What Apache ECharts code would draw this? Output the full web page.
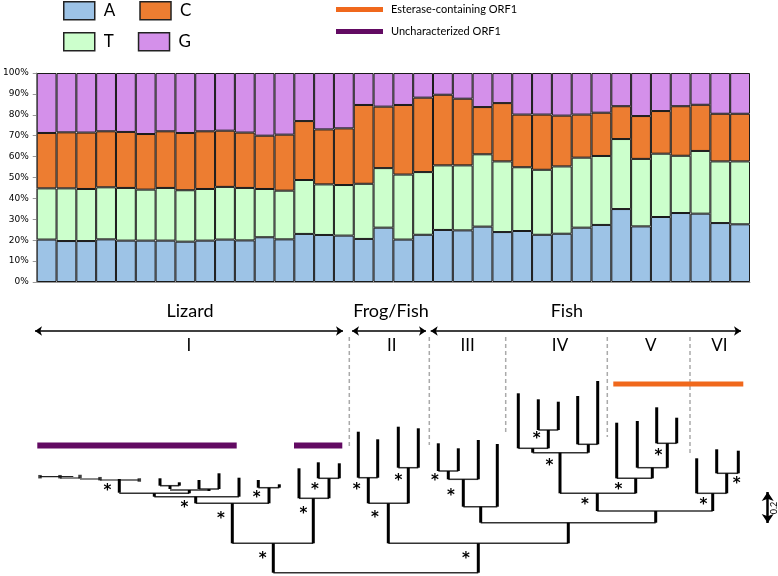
<!DOCTYPE html>
<html>
<head>
<meta charset="utf-8">
<title>Nucleotide composition and ORF1 phylogeny</title>
<script src="https://cdn.jsdelivr.net/npm/echarts@6/dist/echarts.min.js"></script>
<style>
  html, body { margin: 0; padding: 0; background: #fff; }
  #main { width: 778px; height: 576px; }
</style>
</head>
<body>
<div id="main"></div>
<script>
// ---- nucleotide composition (%), one bar per sequence, stacked A, T, C, G
var seqIds = ['1','2','3','4','5','6','7','8','9','10','11','12','13','14','15','16','17','18',
              '19','20','21','22','23','24','25','26','27','28','29','30','31','32','33','34','35','36'];
var pctA = [20.3,19.6,19.6,20.4,19.8,19.8,19.8,19.3,19.8,20.3,19.9,21.4,20.4,23.0,22.5,22.2,20.6,26.0,
            20.3,22.6,24.9,24.7,26.5,23.9,24.4,22.6,23.1,26.0,27.3,34.9,26.6,31.1,33.0,32.7,28.2,27.6];
var pctT = [24.5,25.2,24.9,24.9,25.2,24.4,25.2,24.6,24.7,25.2,25.1,23.1,23.3,25.8,24.2,24.2,26.4,28.5,
            31.1,30.0,30.9,31.1,34.6,33.8,30.5,31.1,32.2,33.5,33.0,33.5,32.3,30.3,27.4,30.0,29.5,30.1];
var pctC = [26.5,26.8,27.0,26.8,26.8,26.6,27.1,27.4,27.6,26.9,26.5,25.5,26.8,28.2,26.3,27.1,37.7,29.4,
            33.3,35.6,33.8,31.9,22.6,27.9,25.2,26.4,24.3,20.6,20.7,15.7,20.5,20.4,23.7,22.1,22.8,22.8];
var pctG = [28.7,28.4,28.5,27.9,28.2,29.2,27.9,28.7,27.9,27.6,28.5,30.0,29.5,23.0,27.0,26.5,15.3,16.1,
            15.3,11.8,10.4,12.3,16.3,14.4,19.9,19.9,20.4,19.9,19.0,15.9,20.6,18.2,15.9,15.2,19.5,19.5];

// ---- tree layout (layout units of the lower panel, y grows downward)
// thick vertical branches: [x, yTop, yBottom]
var branchV = [
  [119.3,479,492.7],[160,478.3,485.7],[179.3,482.3,485.7],[170,485.7,489],[199,480,489],[219,473.3,489],
  [209,489,491],[189.3,490,493.3],[154.3,493.3,496.7],[239,477.7,496.7],[195.7,496.7,503.3],
  [258.3,480,487.7],[279.3,484.3,487.7],[269,487.7,503.3],[232.3,503.3,543.3],
  [299,468.3,498.3],[318.3,462.3,478.3],[339.3,463.3,478.3],[329,478.3,498.3],[313.3,498.3,543.3],
  [273.3,543.3,572.7],
  [358.3,431.7,477.7],[377.7,439.3,477.7],[368.3,477.7,503.3],[398.3,426.7,467.7],[418.3,428.3,467.7],
  [408.3,467.7,503.3],[388.3,503.3,543.3],
  [438.3,443.3,471],[458.3,448.3,471],[448.3,471,479.3],[478.3,440,479.3],[463.3,479.3,506.7],
  [497.3,444,506.7],[480.7,506.7,522.7],
  [518.3,393.3,448.3],[538.3,399.3,430],[558.3,401.7,430],[548.3,430,448.3],[532.7,448.3,452.7],
  [577.7,396,444.3],[597.7,381,444.3],[588.3,444.3,452.7],[560,452.7,493.3],
  [616.7,422.7,478.3],[637.3,421,467.7],[656.7,407.3,443.3],[676.7,417.7,443.3],[667.3,443.3,467.7],
  [652.3,467.7,478.3],[635.7,478.3,493.3],[597.3,493.3,511],
  [696.7,458.3,493.3],[716.7,449.3,473.3],[738.3,450.7,473.3],[726.7,473.3,493.3],[712.7,493.3,511],
  [655.7,511,522.7],[568.3,522.7,543.3],[478.3,543.3,572.7]
];
// thin horizontal connectors: [xLeft, xRight, y]
var branchH = [
  [119.3,189.3,493.3],[160,179.3,485.7],[199,219,489],[170,209,490],[154.3,239,496.7],[258.3,279.3,487.7],
  [195.7,269,503.3],[232.3,313.3,543.3],[299,329,498.3],[318.3,339.3,478.3],[273.3,478.3,572.7],
  [358.3,377.7,477.7],[398.3,418.3,467.7],[368.3,408.3,503.3],[388.3,568.3,543.3],
  [438.3,458.3,471],[448.3,478.3,479.3],[463.3,497.3,506.7],[480.7,655.7,522.7],
  [538.3,558.3,430],[518.3,548.3,448.3],[577.7,597.7,444.3],[532.7,588.3,452.7],[560,635.7,493.3],
  [656.7,676.7,443.3],[637.3,667.3,467.7],[616.7,652.3,478.3],[597.3,712.7,511],
  [716.7,738.3,473.3],[696.7,726.7,493.3]
];
// collapsed lizard tips
var lizardTipsDark = [[40,73.3,476.7],[119.3,139.3,480]];
var lizardTipsGray = [[60,80,478],[80,100,479],[100,119.3,480]];
var lizardTipNodes = [[40,476.7],[60,476.7],[80,476.5],[100,478.7],[139.3,480]];
// bootstrap support marks
var supportStars = [
  [107.3,487.7],[184.3,505],[256.7,495],[221,516],[262.7,556],[303.3,511],[315,487.3],[356.7,486.7],
  [375,515],[398.3,477.7],[435,477.7],[451,493.3],[466,556],[536.7,436],[549.3,463.3],[585,501.7],
  [618.3,486.7],[658.3,452.7],[703.3,501.7],[736.7,480.7]
];
// clade dividers [x, yTop, yBottom]
var cladeDividers = [[349.3,337,447],[429.3,337,445],[505.7,337,433],[607.3,337,437],[690,337,455]];
// host groups: name, span
var groupNames = ['Lizard', 'Frog/Fish', 'Fish'];
var groupSpans = [[35,343],[352,426],[430.7,741]];
var cladeNames = ['I', 'II', 'III', 'IV', 'V', 'VI'];
var cladeCenters = [189, 391.7, 467.7, 560, 650.7, 719.3];
// ORF1 type bars [xLeft, xRight]
var esteraseSpans = [[613.3,743.3]];
var unknownSpans = [[37.3,236.7],[294,342.3]];
var scaleBarLabel = '0.2';

var colors = { A: '#9dc3e6', T: '#ccffcc', C: '#ed7d31', G: '#d490ea', esterase: '#f0681c', unknown: '#620a62' };
var FONT = 'Lato, "Open Sans", sans-serif';

var myChart = echarts.init(document.getElementById('main'));

function segSeries(name, segs, style, z) {
  return {
    type: 'custom', name: name, xAxisIndex: 1, yAxisIndex: 1, silent: true, z: z || 3,
    itemStyle: { color: style.stroke },
    data: segs,
    renderItem: function (params, api) {
      var a = api.coord([api.value(0), api.value(1)]);
      var b = api.coord([api.value(2), api.value(3)]);
      return { type: 'line', shape: { x1: a[0], y1: a[1], x2: b[0], y2: b[1] }, style: style };
    }
  };
}
function textSeries(items, font, dy) {
  return {
    type: 'custom', xAxisIndex: 1, yAxisIndex: 1, silent: true, z: 5,
    data: items,
    renderItem: function (params, api) {
      var p = api.coord([api.value(0), api.value(1)]);
      return { type: 'text', x: p[0], y: p[1] + (dy || 0),
        style: { text: items[params.dataIndex][2], font: font, fill: '#000', align: 'center', verticalAlign: 'middle' } };
    }
  };
}
function vSeg(d) { return [d[0], d[1], d[0], d[2]]; }
function hSeg(d) { return [d[0], d[2], d[1], d[2]]; }

var barBase = { type: 'bar', stack: 'total', barCategoryGap: 0, xAxisIndex: 0, yAxisIndex: 0,
  itemStyle: { borderColor: '#1a1a1a', borderWidth: 1 } };

var option = {
  animation: false,
  legend: [
    { data: [{ name: 'A', icon: 'rect' }, { name: 'C', icon: 'rect' }], left: 63, top: 1, padding: 0, itemWidth: 31, itemHeight: 18,
      itemGap: 24, selectedMode: false, itemStyle: { borderColor: '#222', borderWidth: 1.5 },
      textStyle: { fontFamily: FONT, fontSize: 17, color: '#000', width: 18, padding: [0, 0, 0, 4] } },
    { data: [{ name: 'T', icon: 'rect' }, { name: 'G', icon: 'rect' }], left: 63, top: 32, padding: 0, itemWidth: 31, itemHeight: 18,
      itemGap: 24, selectedMode: false, itemStyle: { borderColor: '#222', borderWidth: 1.5 },
      textStyle: { fontFamily: FONT, fontSize: 17, color: '#000', width: 18, padding: [0, 0, 0, 4] } },
    { data: [{ name: 'Esterase-containing ORF1', icon: 'rect' }, { name: 'Uncharacterized ORF1', icon: 'rect' }],
      orient: 'vertical', left: 336, top: 4, padding: 0, itemWidth: 47, itemHeight: 5, itemGap: 11, selectedMode: false,
      textStyle: { fontFamily: FONT, fontSize: 11, color: '#000', padding: [0, 0, 0, 3] } }
  ],
  grid: [
    { left: 36, right: 28, top: 73, bottom: 294 },
    { left: 0, right: 0, top: 0, bottom: 0 }
  ],
  xAxis: [
    { type: 'category', gridIndex: 0, data: seqIds, axisLabel: { show: false }, axisTick: { show: false },
      axisLine: { lineStyle: { color: '#999' } } },
    { type: 'value', gridIndex: 1, min: 0, max: 778, show: false }
  ],
  yAxis: [
    { type: 'value', gridIndex: 0, min: 0, max: 100, interval: 10, splitLine: { show: false },
      axisLine: { show: true, lineStyle: { color: '#999' } }, axisTick: { show: true, length: 4, lineStyle: { color: '#999' } },
      axisLabel: { formatter: '{value}%', fontFamily: 'DejaVu Sans', fontSize: 9, color: '#000', margin: 8 } },
    { type: 'value', gridIndex: 1, min: 0, max: 576, inverse: true, show: false }
  ],
  series: [
    Object.assign({}, barBase, { name: 'A', data: pctA, itemStyle: Object.assign({ color: colors.A }, barBase.itemStyle) }),
    Object.assign({}, barBase, { name: 'T', data: pctT, itemStyle: Object.assign({ color: colors.T }, barBase.itemStyle) }),
    Object.assign({}, barBase, { name: 'C', data: pctC, itemStyle: Object.assign({ color: colors.C }, barBase.itemStyle) }),
    Object.assign({}, barBase, { name: 'G', data: pctG, itemStyle: Object.assign({ color: colors.G }, barBase.itemStyle) }),

    segSeries('Esterase-containing ORF1', esteraseSpans.map(function (s) { return [s[0], 384, s[1], 384]; }),
      { stroke: colors.esterase, lineWidth: 5 }),
    segSeries('Uncharacterized ORF1', unknownSpans.map(function (s) { return [s[0], 445.5, s[1], 445.5]; }),
      { stroke: colors.unknown, lineWidth: 6 }),

    segSeries('dividers', cladeDividers.map(vSeg), { stroke: '#aaa', lineWidth: 1.5, lineDash: [4, 3] }, 2),
    segSeries('branchH', branchH.map(hSeg), { stroke: '#333', lineWidth: 1.5 }),
    segSeries('branchV', branchV.map(vSeg), { stroke: '#000', lineWidth: 3 }, 4),
    segSeries('tipsDark', lizardTipsDark.map(hSeg), { stroke: '#222', lineWidth: 1.2 }),
    segSeries('tipsGray', lizardTipsGray.map(hSeg), { stroke: '#888', lineWidth: 2 }),
    { type: 'scatter', xAxisIndex: 1, yAxisIndex: 1, silent: true, symbol: 'rect', symbolSize: 3.5, z: 4,
      itemStyle: { color: '#111' }, data: lizardTipNodes },

    { type: 'lines', coordinateSystem: 'cartesian2d', xAxisIndex: 1, yAxisIndex: 1, silent: true, z: 3,
      symbol: ['arrow', 'arrow'], symbolSize: 7, lineStyle: { color: '#000', width: 1.5, opacity: 1 },
      data: groupSpans.map(function (s) { return { coords: [[s[0], 331], [s[1], 331]] }; }) },
    { type: 'lines', coordinateSystem: 'cartesian2d', xAxisIndex: 1, yAxisIndex: 1, silent: true, z: 3,
      symbol: ['arrow', 'arrow'], symbolSize: 9, lineStyle: { color: '#000', width: 2.5, opacity: 1 },
      data: [{ coords: [[767.7, 492], [767.7, 523]] }] },

    textSeries(groupNames.map(function (n, i) { return [(groupSpans[i][0] + groupSpans[i][1]) / 2 + [1, 2, -19][i], 311, n]; }),
      '18px ' + FONT, 0),
    textSeries(cladeNames.map(function (n, i) { return [cladeCenters[i], 346, n]; }), '17px ' + FONT, 0),
    textSeries(supportStars.map(function (s) { return [s[0], s[1], '*']; }), 'bold 15px "DejaVu Sans"', 3),
    {
      type: 'custom', xAxisIndex: 1, yAxisIndex: 1, silent: true, z: 5, data: [[774, 508]],
      renderItem: function (params, api) {
        var p = api.coord([api.value(0), api.value(1)]);
        return { type: 'text', x: p[0], y: p[1], rotation: Math.PI / 2,
          style: { text: scaleBarLabel, font: '9px ' + FONT, fill: '#000', align: 'center', verticalAlign: 'middle' } };
      }
    }
  ]
};
myChart.setOption(option);
</script>
</body>
</html>
